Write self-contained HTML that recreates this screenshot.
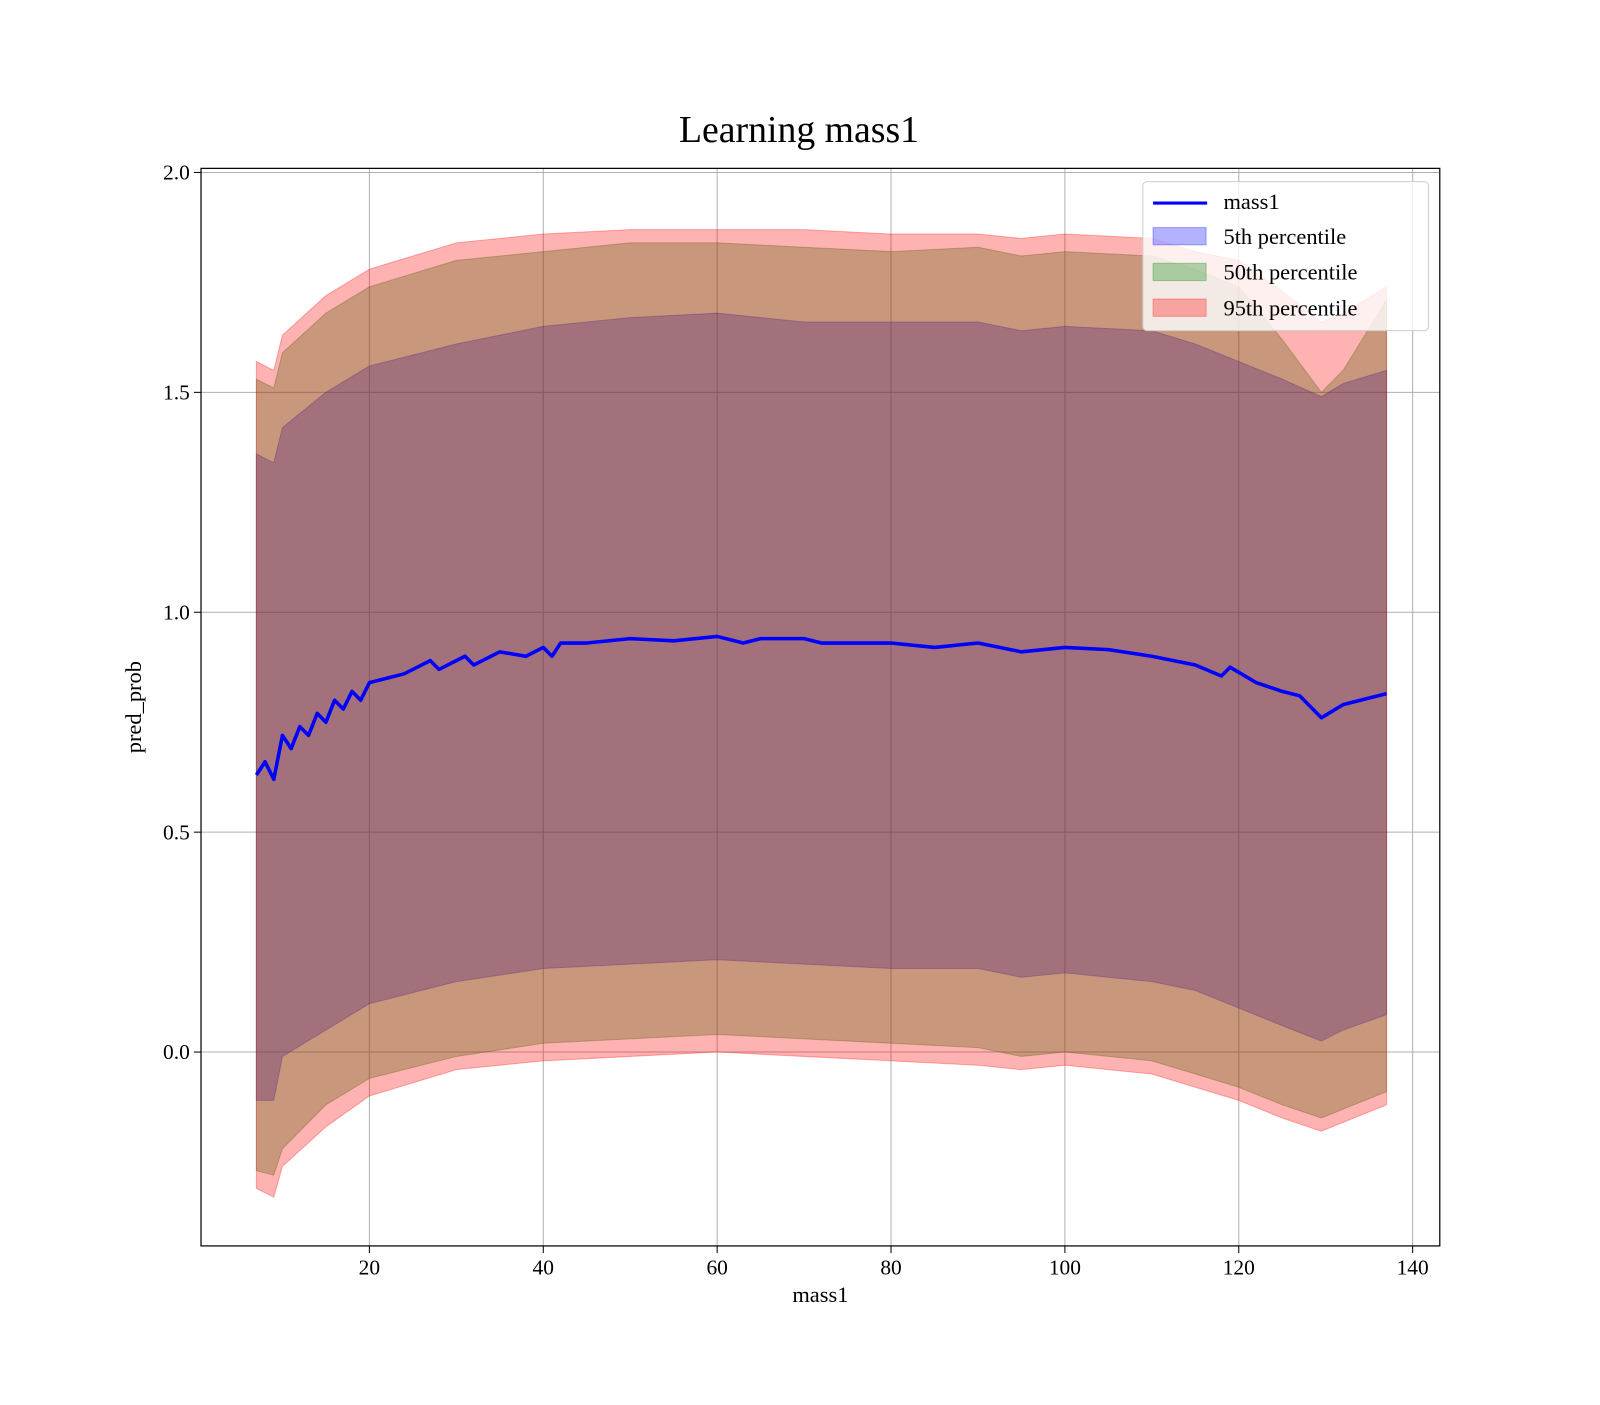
<!DOCTYPE html>
<html><head><meta charset="utf-8"><style>
body{margin:0;background:#fff;}
svg text{font-family:"Liberation Serif","DejaVu Serif",serif;fill:#000;}
</style></head><body>
<svg width="1600" height="1400" viewBox="0 0 1568 1372" preserveAspectRatio="none" xmlns="http://www.w3.org/2000/svg">
<rect width="1568" height="1372" fill="#fff"/>
<text x="783" y="139" font-size="37" text-anchor="middle">Learning mass1</text>
<g id="grid"></g>
<g id="bands"></g>
<g id="line"></g>
<rect x="197" y="165" width="1214" height="1056" fill="none" stroke="#000" stroke-width="1.2"/>
<g id="ticks"></g>
<text x="804" y="1276" font-size="22" text-anchor="middle">mass1</text>
<text x="138" y="693" font-size="22" text-anchor="middle" transform="rotate(-90 138 693)">pred_prob</text>
<g>
<rect x="1120" y="178" width="280" height="146" rx="4" fill="#fff" fill-opacity="0.8" stroke="#ccc"/>
<line x1="1130" y1="199" x2="1183" y2="199" stroke="#0000ff" stroke-width="3"/>
<text x="1199" y="205" font-size="22">mass1</text>
<rect x="1130" y="223" width="52" height="17" fill="rgba(0,0,255,0.3)" stroke="rgba(0,0,255,0.3)"/>
<text x="1199" y="239" font-size="22">5th percentile</text>
<rect x="1130" y="258" width="52" height="17" fill="rgba(0,128,0,0.3)" stroke="rgba(0,128,0,0.3)"/>
<text x="1199" y="274" font-size="22">50th percentile</text>
<rect x="1130" y="293" width="52" height="17" fill="rgba(255,0,0,0.3)" stroke="rgba(255,0,0,0.3)"/>
<text x="1199" y="309" font-size="22">95th percentile</text>
</g>
</svg>
<script>
const bandX=[7,9,10,15,20,30,40,50,60,70,80,90,95,100,110,115,120,125,129.5,132,137];
const p5Lo=[-0.11,-0.11,-0.01,0.05,0.11,0.16,0.19,0.20,0.21,0.20,0.19,0.19,0.17,0.18,0.16,0.14,0.10,0.06,0.025,0.05,0.085];
const p5Hi=[1.36,1.34,1.42,1.50,1.56,1.61,1.65,1.67,1.68,1.66,1.66,1.66,1.64,1.65,1.64,1.61,1.57,1.53,1.49,1.52,1.55];
const p50Lo=[-0.27,-0.28,-0.22,-0.12,-0.06,-0.01,0.02,0.03,0.04,0.03,0.02,0.01,-0.01,0.0,-0.02,-0.05,-0.08,-0.12,-0.15,-0.13,-0.09];
const p50Hi=[1.53,1.51,1.59,1.68,1.74,1.80,1.82,1.84,1.84,1.83,1.82,1.83,1.81,1.82,1.81,1.78,1.74,1.62,1.50,1.55,1.71];
const p95Lo=[-0.31,-0.33,-0.26,-0.17,-0.10,-0.04,-0.02,-0.01,0.0,-0.01,-0.02,-0.03,-0.04,-0.03,-0.05,-0.08,-0.11,-0.15,-0.18,-0.16,-0.12];
const p95Hi=[1.57,1.55,1.63,1.72,1.78,1.84,1.86,1.87,1.87,1.87,1.86,1.86,1.85,1.86,1.85,1.82,1.80,1.73,1.66,1.68,1.74];
const meanX=[7,8,8.5,9,10,11,12,13,14,15,16,17,18,19,20,22,24,25,27,28,30,31,32,35,38,40,41,42,45,50,55,60,63,65,70,72,75,80,85,90,95,100,105,110,115,118,119,122,125,127,129.5,132,137];
const meanY=[0.63,0.66,0.64,0.62,0.72,0.69,0.74,0.72,0.77,0.75,0.80,0.78,0.82,0.80,0.84,0.85,0.86,0.87,0.89,0.87,0.89,0.90,0.88,0.91,0.90,0.92,0.90,0.93,0.93,0.94,0.935,0.945,0.93,0.94,0.94,0.93,0.93,0.93,0.92,0.93,0.91,0.92,0.915,0.90,0.88,0.855,0.875,0.84,0.82,0.81,0.76,0.79,0.815];
const xTicks=[20,40,60,80,100,120,140];
const yTicks=[0.0,0.5,1.0,1.5,2.0];
const NS="http://www.w3.org/2000/svg";
const sx=v=>191.6+v*8.52;
const sy=v=>1031-v*431;
function mk(tag,attrs,parent){const e=document.createElementNS(NS,tag);for(const k in attrs)e.setAttribute(k,attrs[k]);parent.appendChild(e);return e;}
const grid=document.getElementById('grid'),ticks=document.getElementById('ticks');
xTicks.forEach(t=>{
  const g=mk('line',{x1:sx(t),x2:sx(t),y1:165,y2:1221,stroke:'#b0b0b0','stroke-width':1},grid);
  
  
  const tk=mk('line',{x1:sx(t),x2:sx(t),y1:1221,y2:1228,stroke:'#000'},ticks);
  
  
  const tx=mk('text',{x:sx(t),y:1249,'font-size':21,'text-anchor':'middle'},ticks);tx.textContent=t;
  
  
});
yTicks.forEach(t=>{
  const g=mk('line',{x1:197,x2:1411,y1:sy(t),y2:sy(t),stroke:'#b0b0b0','stroke-width':1},grid);
  
  
  const tk=mk('line',{x1:190,x2:197,y1:sy(t),y2:sy(t),stroke:'#000'},ticks);
  
  
  const tx=mk('text',{x:186,y:sy(t)+7,'font-size':21,'text-anchor':'end'},ticks);tx.textContent=t.toFixed(1);
  
  
});
const bands=document.getElementById('bands');
function band(lo,hi,col,name){
  let d='M'+bandX.map((x,i)=>sx(x)+','+sy(hi[i])).join('L');
  d+='L'+bandX.map((x,i)=>[sx(x),sy(lo[i])]).reverse().map(p=>p.join(',')).join('L')+'Z';
  const p=mk('path',{d:d,fill:col,stroke:col,'stroke-width':1},bands);
  
  
}
band(p5Lo,p5Hi,'rgba(0,0,255,0.3)','band-5th-percentile');
band(p50Lo,p50Hi,'rgba(0,128,0,0.3)','band-50th-percentile');
band(p95Lo,p95Hi,'rgba(255,0,0,0.3)','band-95th-percentile');
const ln=mk('polyline',{points:meanX.map((x,i)=>sx(x)+','+sy(meanY[i])).join(' '),fill:'none',stroke:'#0000ff','stroke-width':3.5,'stroke-linejoin':'round'},document.getElementById('line'));


</script>
</body></html>
